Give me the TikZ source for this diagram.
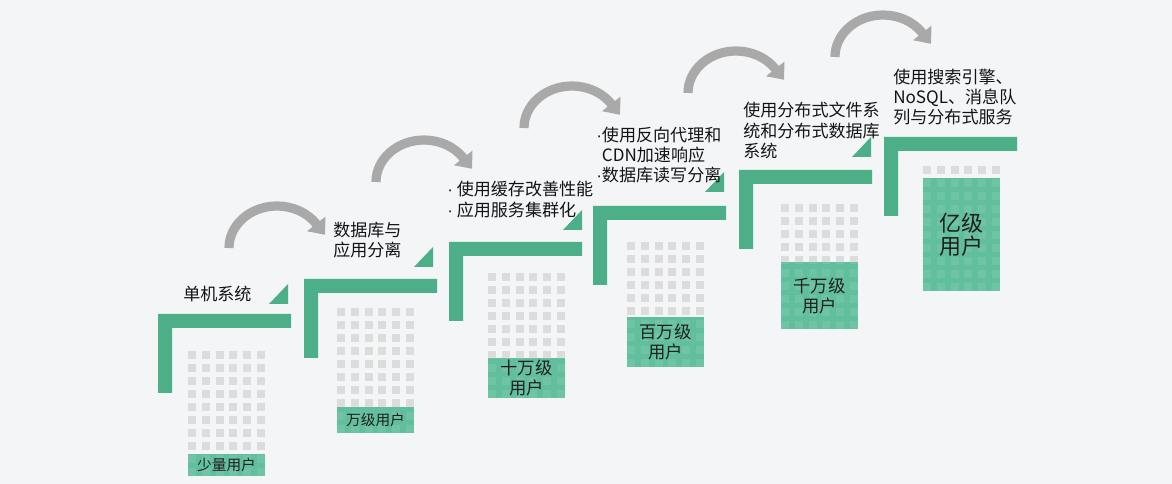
\documentclass[tikz,border=0pt]{standalone}
\usepackage{fontspec}
\setmainfont{Noto Sans CJK SC}
\newfontfamily\dotfont{Liberation Sans}
\usetikzlibrary{calc,positioning,arrows.meta}

\definecolor{stepgreen}{HTML}{4CAF87}
\definecolor{boxgreen}{HTML}{62BF9E}
\definecolor{cellgray}{HTML}{DCDCDC}
\definecolor{arrowgray}{HTML}{A9A9A9}
\definecolor{bggray}{HTML}{F4F5F7}

\newcommand{\middot}{{\dotfont ·}}

\tikzset{
  steptext/.style={anchor=west, align=left, inner sep=0pt, text=black!92,
    font=\fontsize{12.8}{15.3}\selectfont},
  usersmall/.style={align=center, inner sep=0pt, text=black!88,
    font=\fontsize{11}{13}\selectfont},
  userbig/.style={align=center, inner sep=0pt, text=black!88,
    font=\fontsize{13}{15}\selectfont},
  bendarrow/.style={draw=arrowgray, line width=6.9pt,
    -{Triangle[length=10.5pt,width=17pt]}},
}

\begin{document}
\begin{tikzpicture}[x=0.75pt, y=-0.75pt]
  \fill[bggray] (0,0) rectangle (1172,484);

  % steps
  \foreach \lx/\ly in {158/314, 304/279, 449/242, 593/206, 739/170, 884/137}
    \fill[stepgreen] (\lx,\ly) -- ++(133,0) -- ++(0,14) -- ++(-119,0)
      -- ++(0,65) -- ++(-14,0) -- cycle;
  \foreach \tx/\ty in {288/304, 433/267, 582/230, 724/192, 871/157}
    \fill[stepgreen] (\tx,\ty) -- ++(-19,0) -- ++(19,-20) -- cycle;

  % user grids
  \foreach \gx/\gy/\bt [count=\k] in {188/351/454, 337/308/407, 488/273/358,
      627/242/317, 781/204/262, 923/166/178}{
    \foreach \i in {0,...,5}
      \foreach \j in {0,...,9}
        \fill[cellgray] ({\gx+13.8*\i},{\gy+13*\j}) rectangle ++(8,8);
    \coordinate (box\k-nw) at (\gx,\bt);
    \coordinate (box\k-se) at ({\gx+77},{\gy+125});
    \fill[boxgreen] (box\k-nw) rectangle (box\k-se);
    \begin{scope}
      \clip (box\k-nw) rectangle (box\k-se);
      \foreach \i in {0,...,5}
        \foreach \j in {0,...,9}
          \fill[white, opacity=.09] ({\gx+13.8*\i},{\gy+13*\j}) rectangle ++(8,8);
    \end{scope}
  }

  % arrows
  \foreach \ax/\ay [count=\k] in {229/248, 376/182, 524/128, 688/93, 835/57}{
    \coordinate (arc\k) at (\ax,\ay);
    \draw[bendarrow] (arc\k) arc[start angle=180, end angle=325,
      x radius=48, y radius=42] -- ++(8.7,10.9);
  }

  % step texts
  \node[steptext] (single) at (183,294) {单机系统};
  \node[steptext] (split) at (333,240) {数据库与\\应用分离};
  \node[steptext] (cache) at (447,199.5)
    {\middot\ 使用缓存改善性能\\\middot\ 应用服务集群化};
  \node[steptext] (proxy) at (596,155)
    {\middot 使用反向代理和\\\phantom{\middot}CDN加速响应\\\middot 数据库读写分离};
  \node[steptext] (distfs) at (743,130.5)
    {使用分布式文件系\\统和分布式数据库\\系统};
  \node[steptext] (search) at (893,97)
    {使用搜索引擎、\\NoSQL、消息队\\列与分布式服务};

  % user labels
  \node[usersmall] (users1) at ($(box1-nw)!0.5!(box1-se)$) {少量用户};
  \node[usersmall] (users2) at ($(box2-nw)!0.5!(box2-se)$) {万级用户};
  \node[userbig] (users3) at ($(box3-nw)!0.5!(box3-se)$) {十万级\\用户};
  \node[userbig] (users4) at ($(box4-nw)!0.5!(box4-se)$) {百万级\\用户};
  \node[userbig] (users5) at ($(box5-nw)!0.5!(box5-se)$) {千万级\\用户};
  \node[userbig, font=\fontsize{16.5}{17.5}\selectfont] (users6)
    at ($(box6-nw)!0.5!(box6-se)$) {亿级\\用户};
\end{tikzpicture}
\end{document}
